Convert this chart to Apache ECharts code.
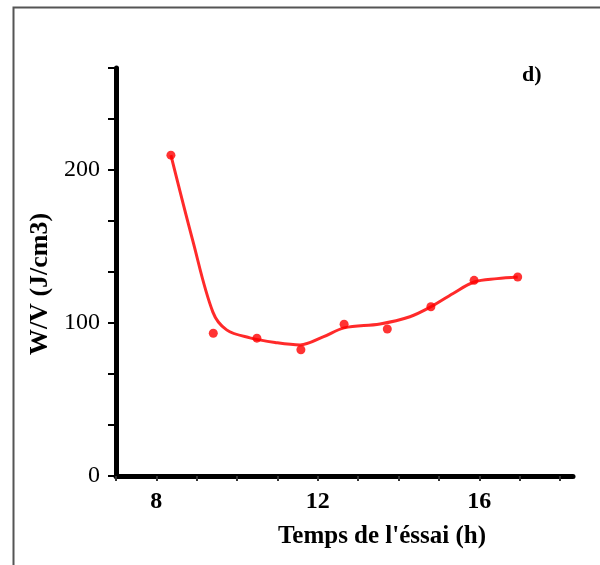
<!DOCTYPE html>
<html>
<head>
<meta charset="utf-8">
<script src="https://cdn.jsdelivr.net/npm/echarts@6/dist/echarts.min.js"></script>
<style>
html,body{margin:0;padding:0;background:#fff;}
#chart{width:600px;height:565px;}
</style>
</head>
<body>
<div id="chart"></div>
<script>
// Measured points: test time (h) and W/V (J/cm3)
var timeH = [8.36, 9.41, 10.49, 11.58, 12.65, 13.72, 14.80, 15.87, 16.95];
var wv    = [209.7, 93.3, 90.1, 82.5, 99.2, 96.1, 110.6, 127.9, 130.1];
// Fitted curve
var curveX = [8.36, 8.90, 9.40, 9.74, 10.32, 10.94, 11.56, 12.13, 12.65, 13.54, 14.28, 14.80, 15.35, 15.87, 16.44, 16.95];
var curveY = [209.7, 154.0, 107.1, 95.5, 90.3, 87.3, 85.7, 90.9, 96.8, 99.4, 104.1, 110.6, 119.3, 126.8, 129.0, 130.1];
var xTickLabels = [8, 12, 16];
var yTickLabels = [0, 100, 200];
var panelLabel = 'd)';
var xTitle = "Temps de l'éssai (h)";
var yTitle = 'W/V (J/cm3)';

var chart = echarts.init(document.getElementById('chart'), null, {renderer: 'canvas'});
var pts = timeH.map(function (t, i) { return [t, wv[i]]; });
var curve = curveX.map(function (t, i) { return [t, curveY[i]]; });

chart.setOption({
  animation: false,
  backgroundColor: '#fff',
  grid: {left: 116, right: 27, top: 68, bottom: 89, containLabel: false},
  xAxis: {
    type: 'value', min: 7, max: 18.32, interval: 1,
    splitLine: {show: false},
    axisLine: {lineStyle: {color: '#000', width: 5}},
    axisTick: {show: true, inside: false, length: 5, lineStyle: {color: '#333', width: 2}},
    axisLabel: {
      margin: 14,
      fontFamily: 'Liberation Serif', fontWeight: 'bold', fontSize: 24, color: '#000',
      showMaxLabel: false,
      formatter: function (v) { var r = Math.round(v); return xTickLabels.indexOf(r) >= 0 && Math.abs(v - r) < 1e-6 ? String(r) : ''; }
    },
    name: xTitle, nameLocation: 'middle', nameGap: 48,
    nameTextStyle: {fontFamily: 'Liberation Serif', fontWeight: 'bold', fontSize: 25, color: '#000', padding: [0, 0, 0, 75]}
  },
  yAxis: {
    type: 'value', min: 0, max: 800 / 3, interval: 100 / 3,
    splitLine: {show: false},
    axisLine: {lineStyle: {color: '#000', width: 5}},
    axisTick: {show: true, inside: false, length: 8, lineStyle: {color: '#000', width: 2}},
    axisLabel: {
      margin: 16,
      fontFamily: 'Liberation Serif', fontSize: 24, color: '#000',
      padding: [0, 0, 12, 0],
      formatter: function (v) { var r = Math.round(v); return yTickLabels.indexOf(r) >= 0 ? String(r) : ''; }
    },
    name: yTitle, nameLocation: 'middle', nameGap: 57,
    nameTextStyle: {fontFamily: 'Liberation Serif', fontWeight: 'bold', fontSize: 26, color: '#000', padding: [0, 24, 0, 0]}
  },
  graphic: [
    {type: 'rect', left: 11, top: 5, shape: {width: 700, height: 700}, style: {fill: 'none', stroke: '#555', lineWidth: 2}, silent: true, z: 100},
    {type: 'text', left: 522, top: 64, style: {text: panelLabel, font: 'bold 22px "Liberation Serif"', fill: '#000'}}
  ],
  series: [
    {
      type: 'line', data: curve, smooth: 0.35, showSymbol: false,
      lineStyle: {color: '#ff2a2a', width: 3}, z: 2
    },
    {
      type: 'scatter', data: pts, symbol: 'circle', symbolSize: 9,
      itemStyle: {color: '#ff0000'}, z: 3
    }
  ]
});
</script>
</body>
</html>
